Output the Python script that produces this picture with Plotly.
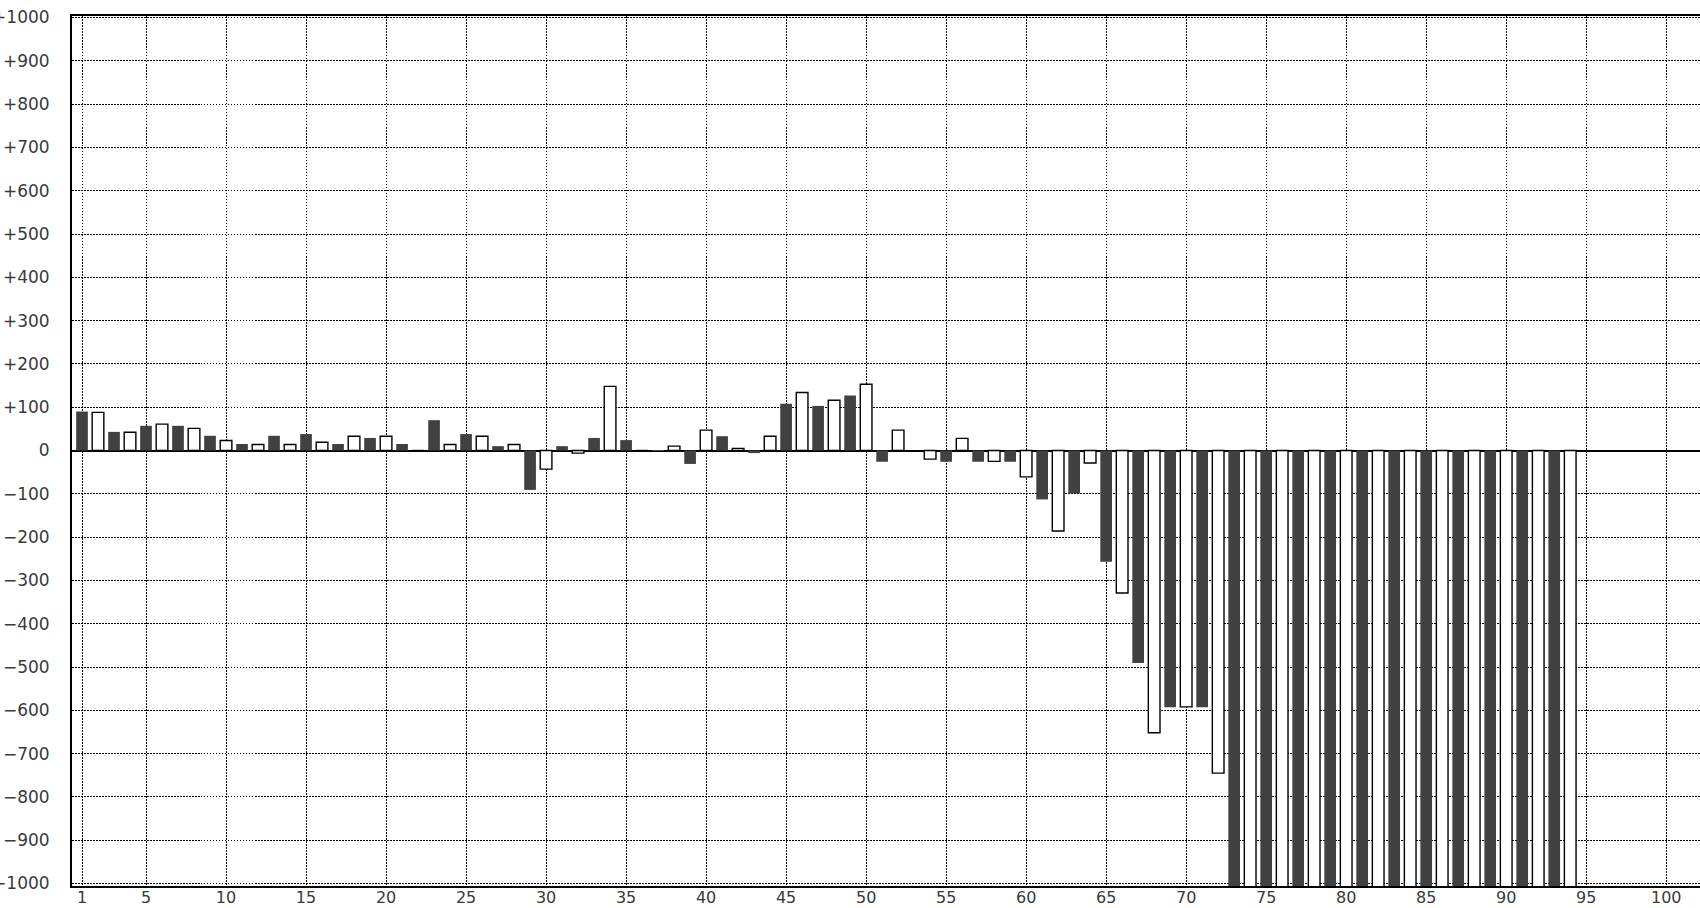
import plotly.graph_objects as go

# ---- data ----
dark_x = [1, 3, 5, 7, 9, 11, 13, 15, 17, 19, 21, 23, 25, 27, 29, 31, 33, 35, 37, 39,
          41, 43, 45, 47, 49, 51, 53, 55, 57, 59, 61, 63, 65, 67, 69, 71, 73, 75, 77, 79,
          81, 83, 85, 87, 89, 91, 93]
dark_vals = [90, 43, 57, 57, 34, 15, 34, 38, 15, 29, 15, 70, 38, 10, -91, 10, 29, 24, -1, -31,
             33, -6, 108, 103, 127, -26, 0, -26, -26, -26, -113, -99, -257, -491, -593, -593,
             -1100, -1100, -1100, -1100, -1100, -1100, -1100, -1100, -1100, -1100, -1100]

white_x = [2, 4, 6, 8, 10, 12, 14, 16, 18, 20, 22, 24, 26, 28, 30, 32, 34, 36, 38, 40,
           42, 44, 46, 48, 50, 52, 54, 56, 58, 60, 62, 64, 66, 68, 70, 72, 74, 76, 78, 80,
           82, 84, 86, 88, 90, 92, 94]
white_vals = [88, 42, 61, 51, 23, 14, 14, 19, 33, 33, 0, 14, 33, 14, -43, -6, 148, 0, 10, 47,
              5, 33, 134, 116, 153, 47, -20, 28, -25, -61, -186, -29, -329, -652, -592, -745,
              -1100, -1100, -1100, -1100, -1100, -1100, -1100, -1100, -1100, -1100, -1100]

x_ticks = [1, 5, 10, 15, 20, 25, 30, 35, 40, 45, 50, 55, 60, 65, 70, 75, 80, 85, 90, 95, 100]
y_ticks = [1000, 900, 800, 700, 600, 500, 400, 300, 200, 100, 0,
           -100, -200, -300, -400, -500, -600, -700, -800, -900, -1000]
y_ticktext = ["+1000", "+900", "+800", "+700", "+600", "+500", "+400", "+300", "+200", "+100", "0",
              "\u2212100", "\u2212200", "\u2212300", "\u2212400", "\u2212500", "\u2212600",
              "\u2212700", "\u2212800", "\u2212900", "\u22121000"]

# ---- figure ----
fig = go.Figure()
fig.add_trace(go.Bar(x=dark_x, y=dark_vals, width=0.73,
                     marker=dict(color="#414141", line=dict(width=0)),
                     showlegend=False, hoverinfo="x+y"))
fig.add_trace(go.Bar(x=white_x, y=white_vals, width=0.73,
                     marker=dict(color="#ffffff", line=dict(color="#000000", width=1.4)),
                     showlegend=False, hoverinfo="x+y"))

grid_dash = "1.5px,1.5px"
font = dict(family="DejaVu Sans", size=17, color="#3a3a3a")
xfont = dict(family="DejaVu Sans", size=16, color="#3a3a3a")

fig.update_layout(
    width=1700, height=908,
    margin=dict(l=72, r=0, t=16, b=22, autoexpand=False),
    paper_bgcolor="white", plot_bgcolor="white",
    barmode="overlay",
    font=font,
    xaxis=dict(range=[0.375, 102.11], tickmode="array", tickvals=x_ticks,
               ticktext=[str(v) for v in x_ticks],
               showgrid=True, gridcolor="black", gridwidth=1.3, griddash=grid_dash,
               showline=True, linecolor="black", linewidth=2, mirror=True,
               zeroline=False, ticks="", ticklabelstandoff=-4, automargin=False,
               tickfont=xfont),
    yaxis=dict(range=[-1005.8, 1003.5], tickmode="array", tickvals=y_ticks,
               ticktext=y_ticktext,
               showgrid=True, gridcolor="black", gridwidth=1.3, griddash=grid_dash,
               showline=True, linecolor="black", linewidth=2, mirror=False,
               zeroline=True, zerolinecolor="black", zerolinewidth=2,
               ticks="", ticklabelstandoff=17, automargin=False,
               tickfont=font),
)

fig.write_html("out.html", config={"displayModeBar": False},
               post_script="document.body.style.margin='0';document.body.style.overflow='hidden';")
